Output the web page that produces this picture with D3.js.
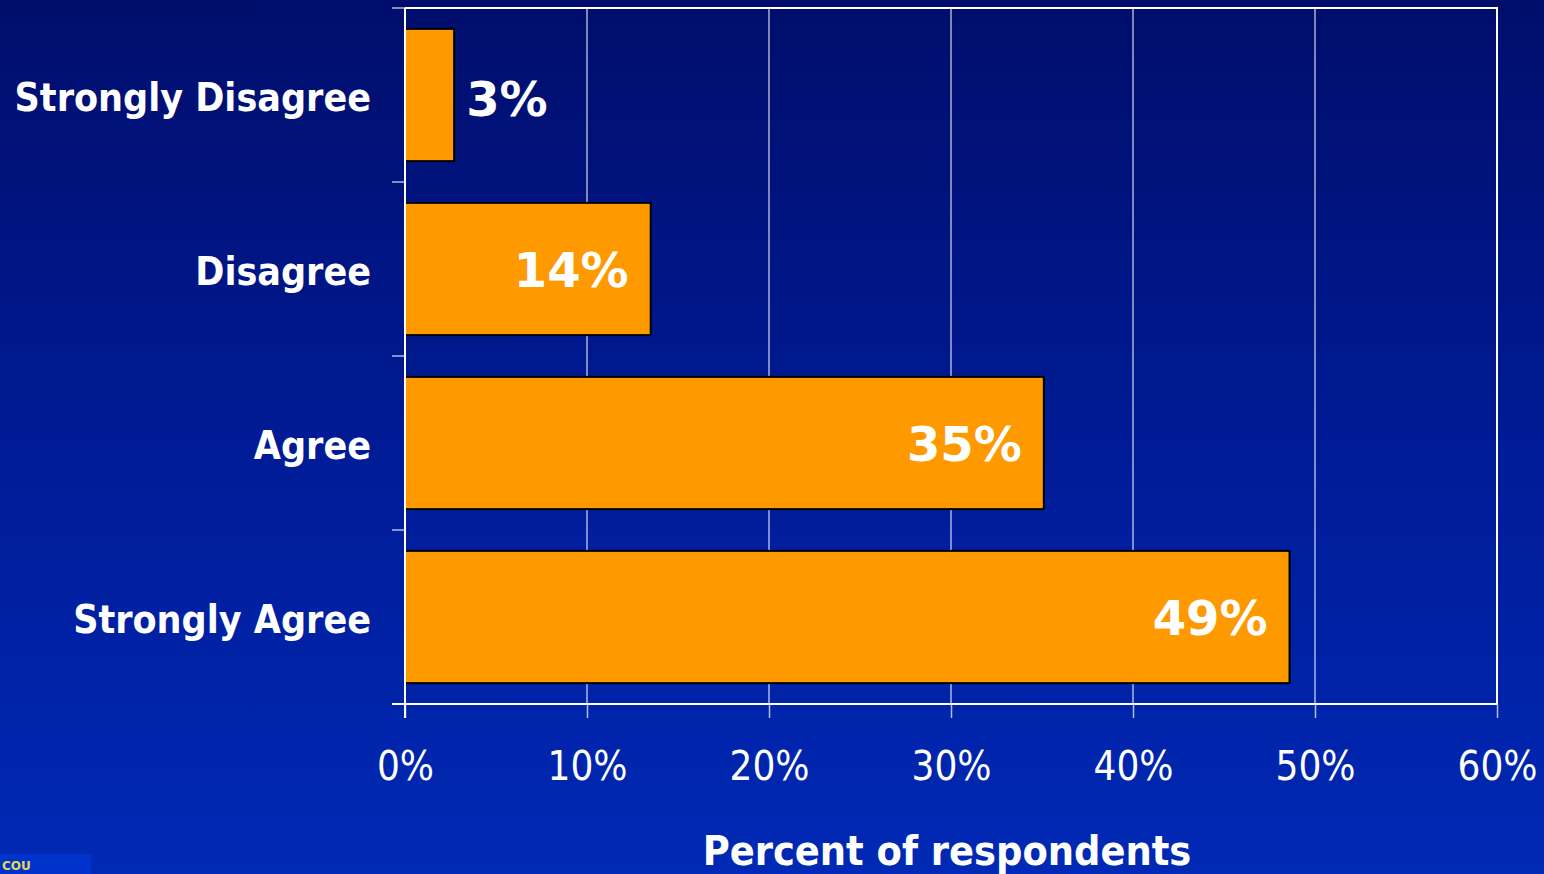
<!DOCTYPE html>
<html>
<head>
<meta charset="utf-8">
<script src="https://cdn.jsdelivr.net/npm/d3@7/dist/d3.min.js"></script>
<style>
  html, body { margin: 0; padding: 0; overflow: hidden; }
  body { width: 1544px; height: 874px; }
</style>
</head>
<body>
<svg id="chart" width="1544" height="874"></svg>
<script>
/* chart data */
var categories = ["Strongly Disagree", "Disagree", "Agree", "Strongly Agree"];
var percents = [2.7, 13.5, 35.1, 48.6];
var valueLabels = ["3%", "14%", "35%", "49%"];
var tickValues = [0, 10, 20, 30, 40, 50, 60];
var axisTitle = "Percent of respondents";

var W = 1544, H = 874;
var margin = {top: 8, right: 47, bottom: 170, left: 405};

var svg = d3.select("#chart");

/* slide background */
var defs = svg.append("defs");
var grad = defs.append("linearGradient")
  .attr("id", "bg")
  .attr("x1", 0).attr("y1", 0)
  .attr("x2", 0).attr("y2", 1);
grad.append("stop").attr("offset", "0%").attr("stop-color", "#000d6b");
grad.append("stop").attr("offset", "55%").attr("stop-color", "#001c99");
grad.append("stop").attr("offset", "100%").attr("stop-color", "#0029b5");

svg.append("rect")
  .attr("width", W).attr("height", H)
  .attr("fill", "url(#bg)");

var x = d3.scaleLinear()
  .domain([0, 60])
  .range([margin.left, W - margin.right]);

var y = d3.scaleBand()
  .domain(categories)
  .range([margin.top, H - margin.bottom])
  .paddingInner(0.24)
  .paddingOuter(0.12);

var plotTop = margin.top, plotBottom = H - margin.bottom;

/* vertical gridlines */
svg.append("g")
  .selectAll("line")
  .data(tickValues.slice(1, -1))
  .enter().append("line")
  .attr("x1", (d) => x(d)).attr("x2", (d) => x(d))
  .attr("y1", plotTop).attr("y2", plotBottom)
  .attr("stroke", "#ffffff")
  .attr("stroke-width", 1);

/* top + right border */
svg.append("path")
  .attr("d", `M${x(0)},${plotTop}H${x(60)}V${plotBottom}`)
  .attr("fill", "none")
  .attr("stroke", "#ffffff")
  .attr("stroke-width", 2);

/* bars */
svg.append("g")
  .selectAll("rect")
  .data(categories)
  .enter().append("rect")
  .attr("x", x(0))
  .attr("y", (d) => y(d))
  .attr("width", (d, i) => x(percents[i]) - x(0))
  .attr("height", y.bandwidth())
  .attr("fill", "#ff9900")
  .attr("stroke", "#000000")
  .attr("stroke-width", 2);

/* bottom axis */
var xAxis = svg.append("g")
  .attr("transform", `translate(0,${plotBottom})`)
  .call(d3.axisBottom(x).tickValues(tickValues).tickSize(14).tickFormat((d) => d + "%"));
xAxis.select(".domain").remove();
xAxis.selectAll(".tick line")
  .attr("stroke", "#ffffff").attr("stroke-opacity", 0.7).attr("stroke-width", 1.5);
xAxis.selectAll(".tick text")
  .attr("y", 76)
  .attr("dy", null)
  .attr("fill", "#ffffff")
  .style("font-family", "'DejaVu Sans Condensed', 'DejaVu Sans', sans-serif")
  .style("font-stretch", "condensed")
  .style("font-size", "40px");

svg.append("line")
  .attr("x1", x(0) - 13).attr("x2", x(60))
  .attr("y1", plotBottom).attr("y2", plotBottom)
  .attr("stroke", "#ffffff").attr("stroke-width", 2);

/* left axis */
var yTicks = categories.map((d) => y(d) - y.step() * y.paddingInner() / 2)
  .concat([plotBottom]);
yTicks[0] = plotTop;
svg.append("g")
  .selectAll("line")
  .data(yTicks)
  .enter().append("line")
  .attr("x1", x(0) - 13).attr("x2", x(0))
  .attr("y1", (d) => d).attr("y2", (d) => d)
  .attr("stroke", "#ffffff").attr("stroke-opacity", 0.7).attr("stroke-width", 1.5);

svg.append("line")
  .attr("x1", x(0)).attr("x2", x(0))
  .attr("y1", plotTop).attr("y2", plotBottom + 14)
  .attr("stroke", "#ffffff").attr("stroke-width", 2);

/* category labels */
svg.append("g")
  .selectAll("text")
  .data(categories)
  .enter().append("text")
  .attr("x", 371)
  .attr("y", (d) => y(d) + y.bandwidth() / 2 + 16)
  .attr("text-anchor", "end")
  .attr("fill", "#ffffff")
  .style("font-family", "'DejaVu Sans Condensed', 'DejaVu Sans', sans-serif")
  .style("font-stretch", "condensed")
  .style("font-weight", "bold")
  .style("font-size", "39px")
  .text((d) => d);

/* value labels: inside the bar, or just past it when it is too short */
svg.append("g")
  .selectAll("text")
  .data(categories)
  .enter().append("text")
  .attr("x", (d, i) => percents[i] < 5 ? x(percents[i]) + 12 : x(percents[i]) - 22)
  .attr("y", (d, i) => y(d) + y.bandwidth() / 2 + (percents[i] < 5 ? 21 : 18))
  .attr("text-anchor", (d, i) => percents[i] < 5 ? "start" : "end")
  .attr("fill", "#ffffff")
  .style("font-family", "'DejaVu Sans', sans-serif")
  .style("font-weight", "bold")
  .style("font-size", "48px")
  .text((d, i) => valueLabels[i]);

/* axis title */
svg.append("text")
  .attr("x", 947)
  .attr("y", 865)
  .attr("text-anchor", "middle")
  .attr("fill", "#ffffff")
  .style("font-family", "'DejaVu Sans Condensed', 'DejaVu Sans', sans-serif")
  .style("font-stretch", "condensed")
  .style("font-weight", "bold")
  .style("font-size", "41px")
  .text(axisTitle);

/* corner of the slide logo */
svg.append("rect")
  .attr("x", 0).attr("y", 854)
  .attr("width", 91).attr("height", 20)
  .attr("fill", "#0033cc");
svg.append("text")
  .attr("x", 2).attr("y", 870)
  .attr("fill", "#e8d84a")
  .style("font-family", "'DejaVu Sans', sans-serif")
  .style("font-weight", "bold")
  .style("font-size", "12px")
  .text("COU");
</script>
</body>
</html>
